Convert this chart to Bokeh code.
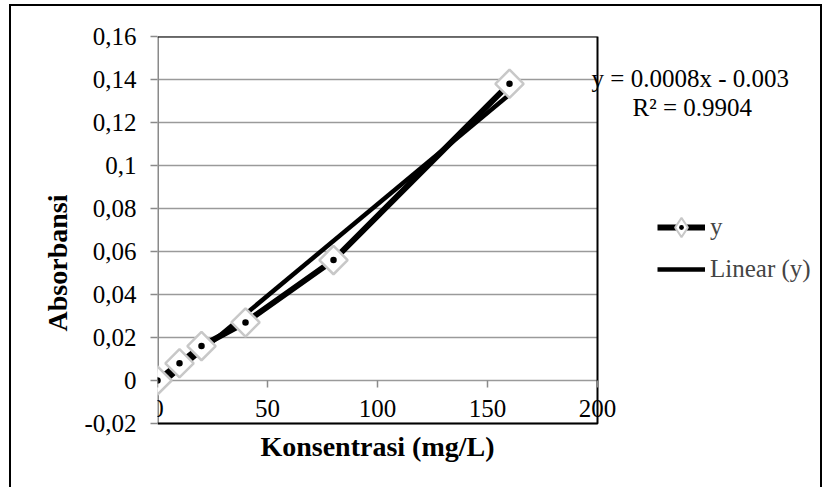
import numpy as np
from bokeh.plotting import figure
from bokeh.models import (Range1d, FixedTicker, CustomJSTickFormatter, Label,
                          Legend, LegendItem)
from bokeh.embed import file_html
from bokeh.resources import INLINE

# data
konsentrasi = [0, 10, 20, 40, 80, 160]
absorbansi = [0.0, 0.008, 0.016, 0.027, 0.056, 0.138]
x_ticks = [0, 50, 100, 150, 200]
y_ticks = [-0.02, 0.0, 0.02, 0.04, 0.06, 0.08, 0.10, 0.12, 0.14, 0.16]
x_title = "Konsentrasi (mg/L)"
y_title = "Absorbansi"
eq_text = "y = 0.0008x - 0.003"
r2_text = "R² = 0.9904"
series_name = "y"
trend_name = "Linear (y)"

FONT = "Liberation Serif"
X_MIN, X_MAX = x_ticks[0], x_ticks[-1]
Y_MIN, Y_MAX = y_ticks[0], y_ticks[-1]
# the frame extends right of and below the plot area so that the
# equation, legend and x title can sit there
X_VIEW_END = X_MAX + (824 - 597) / 2.2
Y_VIEW_START = Y_MIN - (489 - 423) / 2150.0

p = figure(width=813, height=483, output_backend="svg", toolbar_location=None,
           x_range=Range1d(X_MIN, X_VIEW_END), y_range=Range1d(Y_VIEW_START, Y_MAX),
           min_border_left=146, min_border_right=0, min_border_top=30,
           min_border_bottom=0)
p.styles = {"border-top": "2px solid black", "border-left": "2px solid black",
            "border-right": "2px solid black", "margin-left": "9px", "margin-top": "4px"}

p.outline_line_color = None
p.background_fill_color = "white"
p.border_fill_color = "white"
p.xgrid.grid_line_color = None
p.ygrid.grid_line_color = None

# axes
fmt = CustomJSTickFormatter(code="return (Math.round(tick*100)/100).toString().replace('.', ',');")
p.yaxis.ticker = FixedTicker(ticks=y_ticks)
p.yaxis.formatter = fmt
p.xaxis.ticker = FixedTicker(ticks=x_ticks)
p.xaxis.fixed_location = 0
for ax in (p.xaxis[0], p.yaxis[0]):
    ax.axis_line_color = None
    ax.major_tick_line_color = "#8a8a8a"
    ax.major_tick_line_width = 1.5
    ax.major_tick_out = 7
    ax.major_tick_in = 0
    ax.minor_tick_line_color = None
    ax.major_label_text_font = FONT
    ax.major_label_text_font_size = "25px"
    ax.major_label_text_color = "black"
p.xaxis.major_label_standoff = 12
p.yaxis.major_label_standoff = 14
p.yaxis.axis_label = y_title
p.yaxis.axis_label_text_font = FONT
p.yaxis.axis_label_text_font_style = "bold"
p.yaxis.axis_label_text_font_size = "28px"
p.yaxis.axis_label_text_color = "black"
p.yaxis.axis_label_standoff = 8

p.add_layout(Label(x=(X_MIN + X_MAX) / 2, y=-0.0305, text=x_title, text_font=FONT,
                   text_font_style="bold", text_font_size="28px", text_align="center",
                   text_baseline="middle", text_color="black"))

# horizontal gridlines limited to the plot area
p.segment(x0=[X_MIN] * len(y_ticks), y0=y_ticks, x1=[X_MAX] * len(y_ticks), y1=y_ticks,
          line_color="#9a9a9a", line_width=1.5)
# value axis line
p.segment(x0=[X_MIN], y0=[Y_MIN], x1=[X_MIN], y1=[Y_MAX], line_color="#8a8a8a", line_width=3)
# plot area border (top, right, bottom)
p.multi_line(xs=[[X_MIN, X_MAX, X_MAX, X_MIN]], ys=[[Y_MAX, Y_MAX, Y_MIN, Y_MIN]],
             line_color="black", line_width=2)

# series line
line_r = p.line(konsentrasi, absorbansi, line_color="black", line_width=6)

# trendline from least squares fit of the data
slope, intercept = np.polyfit(konsentrasi, absorbansi, 1)
tx = np.array([min(konsentrasi), max(konsentrasi)])
trend_r = p.line(tx, slope * tx + intercept, line_color="black", line_width=4.5)

# diamond used for the legend sample (fully covered by the rotated squares on the plot)
leg_mk_r = p.scatter(konsentrasi, absorbansi, marker="diamond", size=19,
                     fill_color="white", line_color="#c8c8c8", line_width=2)
mk_r = p.scatter(konsentrasi, absorbansi, marker="square", size=20, angle=np.pi / 4,
                 fill_color="white", line_color="#c8c8c8", line_width=2.5)
dot_r = p.scatter(konsentrasi, absorbansi, marker="dot", size=26,
                  line_color="black", fill_color="black")

p.add_layout(Label(x=197.3, y=0.1405, text=eq_text, text_font=FONT,
                   text_font_size="25px", text_baseline="middle", text_color="black"))
p.add_layout(Label(x=215.9, y=0.127, text=r2_text, text_font=FONT,
                   text_font_size="25px", text_baseline="middle", text_color="black"))

leg_common = dict(padding=0, margin=0, glyph_width=48, label_text_font=FONT,
                  label_text_font_size="25px", label_standoff=5,
                  border_line_alpha=0, background_fill_alpha=0)
legend1 = Legend(items=[LegendItem(label=series_name, renderers=[line_r, leg_mk_r, dot_r])],
                 location=(500, 238), glyph_height=48, label_height=48, **leg_common)
legend2 = Legend(items=[LegendItem(label=trend_name, renderers=[trend_r])],
                 location=(500, 206), glyph_height=26, label_height=26, **leg_common)
p.add_layout(legend1)
p.add_layout(legend2)

open("out.html", "w").write(file_html(p, INLINE))
